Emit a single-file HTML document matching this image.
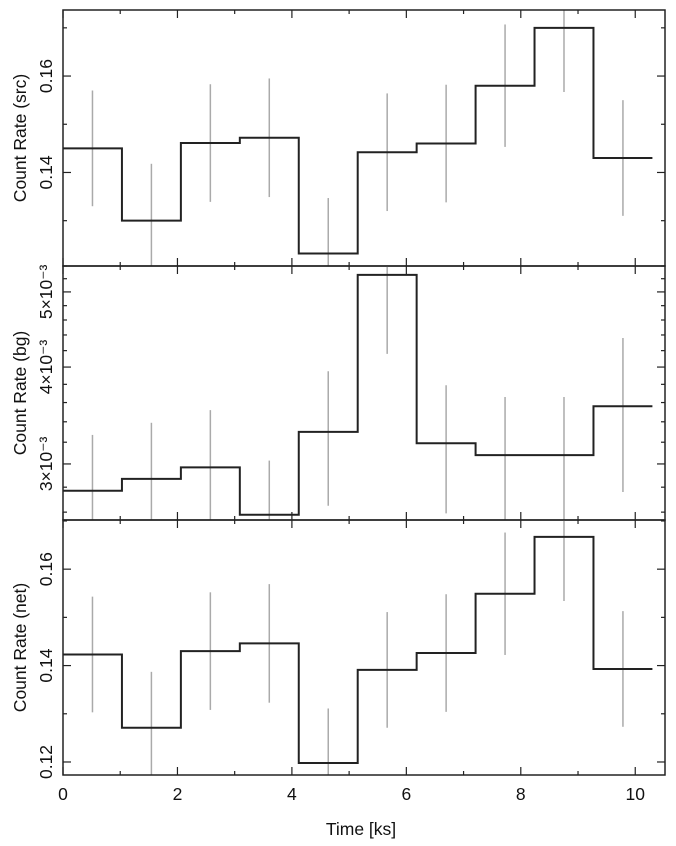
<!DOCTYPE html>
<html><head><meta charset="utf-8"><style>
body{margin:0;background:#fff}
svg{display:block;font-family:"Liberation Sans",Arial,sans-serif}
</style></head><body>
<svg id="chart" width="676" height="846" xmlns="http://www.w3.org/2000/svg"></svg>
<script>
const binStarts=[0,1.03,2.06,3.09,4.12,5.15,6.18,7.21,8.24,9.27];
const binWidth=1.03;
const srcRate=[0.145,0.130,0.1461,0.1472,0.1232,0.1442,0.146,0.158,0.170,0.143];
const srcErr=[0.012,0.0118,0.0122,0.0123,0.0115,0.0122,0.0122,0.0127,0.0133,0.012];
const bgRate=[2.77e-3,2.87e-3,2.97e-3,2.58e-3,3.30e-3,5.26e-3,3.19e-3,3.08e-3,3.08e-3,3.56e-3];
const bgErr=[0.5e-3,0.52e-3,0.55e-3,0.45e-3,0.65e-3,1.1e-3,0.6e-3,0.58e-3,0.58e-3,0.8e-3];
const netRate=[0.1423,0.1271,0.143,0.1446,0.1198,0.1391,0.1426,0.1549,0.1667,0.1393];
const netErr=[0.012,0.0116,0.0122,0.0123,0.0113,0.012,0.0122,0.0127,0.0133,0.012];
const xTicks=[0,2,4,6,8,10];
const srcTicks=[0.14,0.16];
const bgTicks=[3e-3,4e-3,5e-3];
const bgTickLabels=["3×10⁻³","4×10⁻³","5×10⁻³"];
const netTicks=[0.12,0.14,0.16];

const NS="http://www.w3.org/2000/svg";
const svg=document.getElementById('chart');
const X0=63,X1=665,XMIN=0,XMAX=10.52;
const FS=17.5;
const xs=v=>X0+(v-XMIN)/(XMAX-XMIN)*(X1-X0);
function el(tag,attrs,parent){const e=document.createElementNS(NS,tag);for(const k in attrs)e.setAttribute(k,attrs[k]);(parent||svg).appendChild(e);return e;}

const panels=[
 {name:'src',top:10,bot:266,lin:true,vmin:0.1206,vmax:0.1737,rate:srcRate,err:srcErr,ticks:srcTicks,labels:["0.14","0.16"],minor:0.01,title:'Count Rate (src)'},
 {name:'bg',top:266,bot:520,lin:false,vmin:2.54e-3,vmax:5.40e-3,rate:bgRate,err:bgErr,ticks:bgTicks,labels:bgTickLabels,minor:2e-4,title:'Count Rate (bg)'},
 {name:'net',top:520,bot:775,lin:true,vmin:0.1173,vmax:0.1702,rate:netRate,err:netErr,ticks:netTicks,labels:["0.12","0.14","0.16"],minor:0.01,title:'Count Rate (net)'}
];
panels.forEach((p,pi)=>{
 const ys=p.lin?(v=>p.bot-(v-p.vmin)/(p.vmax-p.vmin)*(p.bot-p.top))
   :(v=>p.bot-(Math.log10(v)-Math.log10(p.vmin))/(Math.log10(p.vmax)-Math.log10(p.vmin))*(p.bot-p.top));
 const g=el('g',{});
 
 
 const cg=el('g',{},g);
 
 
 const clipId='clip'+pi;
 const cp=el('clipPath',{id:clipId},g);
 el('rect',{x:X0,y:p.top,width:X1-X0,height:p.bot-p.top},cp);
 cg.setAttribute('clip-path','url(#'+clipId+')');
 p.rate.forEach((v,i)=>{
  const cx=xs(binStarts[i]+binWidth/2);
  const l=el('line',{x1:cx,x2:cx,y1:ys(v+p.err[i]),y2:ys(v-p.err[i]),stroke:'#aaa','stroke-width':1.5},cg);
  
  
 });
 let d='';
 p.rate.forEach((v,i)=>{const xa=xs(binStarts[i]),xb=xs(binStarts[i]+binWidth),y=ys(v);d+=(i?'L':'M')+xa+','+y+'L'+xb+','+y;});
 const path=el('path',{d:d,fill:'none',stroke:'#222','stroke-width':2,'clip-path':'url(#'+clipId+')'},g);
 
 
 const fr=el('rect',{x:X0,y:p.top,width:X1-X0,height:p.bot-p.top,fill:'none',stroke:'#222','stroke-width':1.5},g);
 
 
 for(let t=0;t<=10;t++){const x=xs(t),L=(t%2===0)?8:4;
  el('line',{x1:x,x2:x,y1:p.bot,y2:p.bot-L,stroke:'#222','stroke-width':1.2},g);
  el('line',{x1:x,x2:x,y1:p.top,y2:p.top+L,stroke:'#222','stroke-width':1.2},g);}
 const n0=Math.ceil(p.vmin/p.minor-1e-6),n1=Math.floor(p.vmax/p.minor+1e-6);
 for(let n=n0;n<=n1;n++){const v=n*p.minor,y=ys(v);
  const major=p.ticks.some(t=>Math.abs(t-v)<p.minor/10);
  const L=major?8:4;
  el('line',{x1:X0,x2:X0+L,y1:y,y2:y,stroke:'#222','stroke-width':1.2},g);
  el('line',{x1:X1,x2:X1-L,y1:y,y2:y,stroke:'#222','stroke-width':1.2},g);}
 p.ticks.forEach((t,i)=>{const y=ys(t);
  const tx=el('text',{x:0,y:0,transform:'translate(52,'+y+') rotate(-90)','text-anchor':'middle','font-size':FS,fill:'#111'},g);
  tx.textContent=p.labels[i];
  
  });
 const yt=el('text',{x:0,y:0,transform:'translate(26,'+((p.top+p.bot)/2)+') rotate(-90)','text-anchor':'middle','font-size':FS,fill:'#111'},g);
 yt.textContent=p.title;
 
 
});
xTicks.forEach(t=>{const tx=el('text',{x:xs(t),y:800,'text-anchor':'middle','font-size':FS,fill:'#111'});
 tx.textContent=String(t);
 
 });
const xt=el('text',{x:361,y:835,'text-anchor':'middle','font-size':FS,fill:'#111'});
xt.textContent='Time [ks]';


</script>
</body></html>
